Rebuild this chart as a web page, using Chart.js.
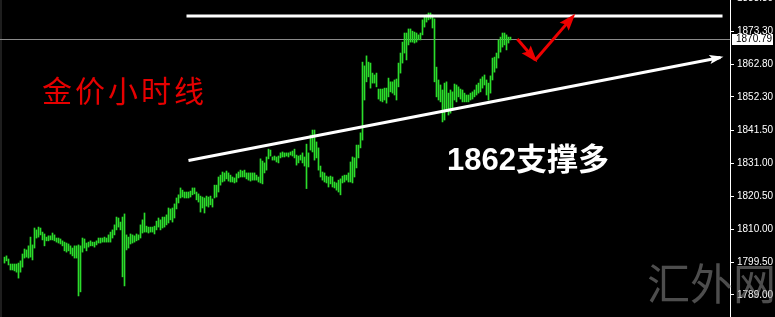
<!DOCTYPE html>
<html>
<head>
<meta charset="utf-8">
<script src="https://cdn.jsdelivr.net/npm/chart.js@4.4.0/dist/chart.umd.min.js"></script>
<style>
  html, body { margin: 0; padding: 0; background: #000; }
  #wrap { position: relative; width: 775px; height: 317px; overflow: hidden; }
  #box { position: absolute; left: 0; top: 0; width: 775px; height: 317px; }
  .note { position: absolute; white-space: nowrap; line-height: 1; }
  #title { left: 42px; top: 67px; font: 400 30px "Noto Sans CJK SC"; color: #e60000; letter-spacing: 3px; }
  #support { left: 447px; top: 134px; font: bold 31px "Liberation Sans", "Noto Sans CJK SC"; color: #fff; }
  #mark { left: 647px; top: 250px; font: 400 43px "Noto Sans CJK SC"; color: rgba(140,140,140,0.55); }
</style>
</head>
<body>
<div id="wrap">
  <div id="box"><canvas id="myChart"></canvas></div>
  <div class="note" id="title">金价小时线</div>
  <div class="note" id="support">1862支撑多</div>
  <div class="note" id="mark">汇外网</div>
</div>
<script>
// hourly bars (high / low per bar)
var highs = [
  1801.1,1801.5,1800.5,1798.9,1798.9,1798.9,1798.9,1799.2,1799.9,1802.1,
  1803.7,1803.4,1804.7,1807.5,1805.0,1810.4,1809.8,1810.7,1810.4,1809.1,
  1808.5,1807.5,1807.9,1807.9,1808.8,1808.2,1807.2,1807.2,1806.9,1806.3,
  1805.9,1805.6,1805.3,1804.7,1804.0,1804.7,1804.7,1805.0,1804.7,1807.2,
  1806.9,1805.6,1805.9,1806.3,1805.9,1805.9,1806.3,1807.2,1807.2,1807.2,
  1807.5,1807.2,1808.2,1809.1,1809.8,1811.4,1813.9,1813.6,1812.3,1813.9,
  1814.9,1808.2,1807.5,1808.5,1808.2,1807.9,1808.5,1808.2,1811.4,1813.0,
  1815.2,1811.0,1810.7,1810.7,1810.7,1811.0,1812.6,1813.6,1813.0,1813.9,
  1813.9,1814.6,1816.8,1816.5,1816.8,1818.1,1820.0,1821.0,1823.2,1822.5,
  1821.9,1821.9,1821.9,1822.2,1823.2,1823.2,1821.9,1821.3,1820.6,1820.3,
  1820.0,1820.6,1820.3,1820.6,1819.7,1824.1,1824.1,1826.7,1827.3,1828.3,
  1828.0,1828.6,1828.0,1827.3,1826.7,1826.4,1827.7,1828.3,1828.9,1828.6,
  1828.9,1828.0,1828.0,1828.0,1828.0,1828.0,1827.3,1826.7,1832.5,1831.8,
  1831.2,1833.1,1835.6,1835.3,1833.1,1833.4,1833.1,1833.4,1834.4,1834.7,
  1834.4,1834.4,1834.4,1834.7,1835.0,1835.6,1833.7,1833.4,1833.7,1834.4,
  1833.1,1837.2,1834.4,1840.1,1841.7,1841.7,1837.9,1836.0,1830.2,1828.3,
  1828.0,1827.0,1826.7,1827.0,1826.7,1825.1,1824.8,1825.7,1826.1,1827.0,
  1827.3,1827.3,1828.0,1831.5,1833.1,1832.8,1836.9,1836.9,1840.8,1863.4,
  1862.2,1865.4,1863.4,1863.1,1859.9,1859.3,1859.9,1854.8,1854.8,1854.8,
  1855.1,1855.1,1858.3,1857.1,1857.1,1857.7,1858.0,1863.1,1866.3,1869.8,
  1872.7,1872.7,1874.0,1874.0,1873.3,1873.0,1872.7,1872.1,1872.7,1876.9,
  1877.8,1878.5,1879.1,1879.1,1878.5,1877.2,1861.8,1857.7,1856.1,1854.5,
  1856.7,1857.1,1853.5,1854.5,1853.9,1856.4,1856.1,1855.5,1854.8,1854.5,
  1853.5,1852.9,1852.9,1853.5,1853.9,1854.5,1856.1,1856.7,1858.0,1858.7,
  1859.3,1857.7,1856.7,1859.0,1864.7,1865.0,1866.3,1870.5,1871.4,1872.7,
  1872.7,1872.1,1871.4,1871.4
];
var lows = [
  1799.2,1799.9,1798.6,1797.0,1797.0,1796.7,1796.3,1794.4,1796.3,1797.9,
  1800.8,1801.1,1800.8,1801.1,1800.2,1804.0,1807.2,1807.5,1808.2,1806.6,
  1804.7,1806.3,1806.3,1806.6,1806.6,1806.3,1805.9,1805.6,1805.3,1804.7,
  1803.1,1802.7,1803.1,1802.1,1801.5,1800.8,1800.8,1788.7,1790.0,1802.7,
  1804.0,1803.1,1804.3,1804.7,1804.7,1804.3,1805.0,1805.6,1805.6,1805.9,
  1805.9,1805.9,1805.9,1805.9,1807.2,1808.2,1809.8,1810.7,1809.8,1794.8,
  1791.9,1803.4,1804.0,1805.3,1805.6,1805.9,1806.3,1806.6,1807.2,1808.8,
  1809.1,1809.1,1808.8,1809.1,1809.1,1808.5,1809.8,1810.7,1809.8,1810.4,
  1810.7,1811.4,1812.0,1813.0,1812.3,1813.6,1816.5,1818.4,1820.0,1820.3,
  1820.0,1820.0,1820.0,1820.3,1821.0,1821.3,1819.4,1818.7,1815.5,1816.8,
  1815.2,1817.4,1817.1,1817.8,1817.1,1820.0,1820.3,1821.9,1824.1,1825.1,
  1825.4,1826.1,1825.4,1825.1,1825.1,1824.8,1825.1,1826.4,1826.7,1826.7,
  1826.7,1826.1,1825.7,1825.4,1825.7,1825.7,1825.7,1825.1,1824.8,1824.5,
  1828.0,1828.9,1832.5,1833.4,1832.1,1832.1,1831.5,1831.2,1832.8,1833.1,
  1833.1,1833.4,1833.1,1833.7,1833.4,1832.8,1830.5,1831.2,1832.1,1831.2,
  1830.2,1823.0,1829.9,1835.3,1834.7,1832.1,1832.8,1828.9,1826.7,1825.7,
  1825.1,1824.8,1823.5,1824.5,1823.5,1823.2,1822.5,1821.9,1821.0,1824.8,
  1825.1,1825.7,1825.1,1825.1,1824.8,1826.7,1829.6,1832.8,1836.0,1838.5,
  1851.3,1857.1,1858.7,1855.1,1856.7,1856.7,1855.5,1851.6,1851.0,1850.7,
  1851.3,1850.3,1852.3,1853.9,1853.5,1852.9,1851.3,1855.5,1859.9,1863.1,
  1866.3,1864.1,1868.9,1869.8,1869.8,1869.5,1869.8,1870.5,1870.5,1872.1,
  1874.6,1876.2,1876.9,1877.2,1874.3,1857.1,1852.3,1851.3,1850.7,1844.3,
  1844.9,1848.1,1846.5,1847.1,1848.1,1851.3,1850.7,1852.3,1851.6,1850.7,
  1850.7,1850.7,1850.7,1851.3,1851.6,1852.3,1852.9,1853.5,1853.9,1855.1,
  1856.1,1852.9,1851.3,1853.5,1857.7,1860.2,1861.5,1864.7,1866.6,1868.2,
  1868.9,1867.3,1869.5,1870.5
];
var lastPrice = 1870.79;
var tickValues = [1789.0, 1799.5, 1810.0, 1820.5, 1831.0, 1841.5, 1852.3, 1862.8, 1873.3, 1883.8];

// drawn lines, in bar index / price
var topLineX = [91, 359];
var topLineY = [1878.1, 1878.1];
var trendX = [92, 358];
var trendY = [1832.0, 1864.9];
var redDownX = [256.4, 265.4];
var redDownY = [1870.8, 1864.1];
var redUpX = [265.4, 284.4];
var redUpY = [1864.1, 1878.1];

var barColor = '#2bdc2b';

function pts(xs, ys) {
    var out = [];
    for (var i = 0; i < xs.length; i++) {
        out.push({ x: xs[i], y: ys[i] });
    }
    return out;
}

var bars = [];
for (var i = 0; i < highs.length; i++) {
    bars.push({ x: i, y: [lows[i], highs[i]] });
}

function drawHead(ctx, from, to, len, wid, color) {
    var a = Math.atan2(to.y - from.y, to.x - from.x);
    ctx.save();
    ctx.translate(to.x, to.y);
    ctx.rotate(a);
    ctx.beginPath();
    ctx.moveTo(3, 0);
    ctx.lineTo(-len, -wid / 2);
    ctx.lineTo(-len + 3, 0);
    ctx.lineTo(-len, wid / 2);
    ctx.closePath();
    ctx.fillStyle = color;
    ctx.fill();
    ctx.restore();
}

var mtPlugin = {
    id: 'mt',
    beforeDraw: function (chart) {
        var ctx = chart.ctx;
        ctx.save();
        ctx.fillStyle = '#000';
        ctx.fillRect(0, 0, chart.width, chart.height);
        ctx.fillStyle = '#1e1e1e';
        ctx.fillRect(0, 0, 2, chart.height);
        ctx.restore();
    },
    beforeDatasetsDraw: function (chart) {
        var ctx = chart.ctx, area = chart.chartArea;
        var y = Math.round(chart.scales.y.getPixelForValue(lastPrice)) + 0.5;
        ctx.save();
        ctx.strokeStyle = '#8a8a8a';
        ctx.lineWidth = 1;
        ctx.beginPath();
        ctx.moveTo(area.left, y);
        ctx.lineTo(area.right, y);
        ctx.stroke();
        ctx.restore();
    },
    afterDatasetsDraw: function (chart) {
        var ctx = chart.ctx;
        chart.data.datasets.forEach(function (ds, k) {
            if (!ds.arrowHead) return;
            var p = chart.getDatasetMeta(k).data;
            var a = p[p.length - 2], b = p[p.length - 1];
            drawHead(ctx, a, b, ds.arrowHead[0], ds.arrowHead[1], ds.borderColor);
        });
    },
    afterDraw: function (chart) {
        var ctx = chart.ctx, area = chart.chartArea;
        var y = Math.round(chart.scales.y.getPixelForValue(lastPrice));
        ctx.save();
        ctx.fillStyle = '#fff';
        ctx.fillRect(area.right + 2, y - 5, 41, 11);
        ctx.fillStyle = '#000';
        ctx.font = '10px "Liberation Sans"';
        ctx.textBaseline = 'middle';
        ctx.fillText(lastPrice.toFixed(2), area.right + 6, y + 0.5);
        ctx.restore();
    }
};

function createChart() {
    var ctx = document.getElementById('myChart').getContext('2d');
    new Chart(ctx, {
        data: {
            datasets: [{
                type: 'line',
                data: pts(topLineX, topLineY),
                borderColor: '#ffffff',
                borderWidth: 3,
                pointRadius: 0,
                order: 0
            }, {
                type: 'line',
                data: pts(trendX, trendY),
                borderColor: '#ffffff',
                borderWidth: 3,
                pointRadius: 0,
                arrowHead: [11, 9],
                order: 0
            }, {
                type: 'line',
                data: pts(redDownX, redDownY),
                borderColor: '#ee0000',
                borderWidth: 3,
                pointRadius: 0,
                arrowHead: [14, 12],
                order: 0
            }, {
                type: 'line',
                data: pts(redUpX, redUpY),
                borderColor: '#ee0000',
                borderWidth: 3,
                pointRadius: 0,
                arrowHead: [14, 12],
                order: 0
            }, {
                type: 'bar',
                data: bars,
                backgroundColor: barColor,
                borderWidth: 0,
                barThickness: 1,
                grouped: false,
                order: 5
            }]
        },
        options: {
            responsive: true,
            maintainAspectRatio: false,
            animation: false,
            events: [],
            layout: { padding: 0 },
            plugins: { legend: { display: false }, tooltip: { enabled: false } },
            scales: {
                x: {
                    type: 'linear',
                    display: false,
                    offset: false,
                    min: -2.25,
                    max: 362.75
                },
                y: {
                    position: 'right',
                    min: 1781.97,
                    max: 1883.25,
                    afterBuildTicks: function (s) {
                        s.ticks = tickValues.map(function (v) { return { value: v }; });
                    },
                    afterFit: function (s) {
                        s.width = 45;
                        s.paddingTop = 0;
                        s.paddingBottom = 0;
                    },
                    ticks: {
                        color: '#ffffff',
                        autoSkip: false,
                        padding: 3,
                        font: { family: 'Liberation Sans', size: 10 },
                        callback: function (v) { return Number(v).toFixed(2); }
                    },
                    grid: { drawOnChartArea: false, color: '#ffffff', tickLength: 4 },
                    border: { color: '#ffffff', width: 1 }
                }
            }
        },
        plugins: [mtPlugin]
    });
}
createChart();
</script>
</body>
</html>
